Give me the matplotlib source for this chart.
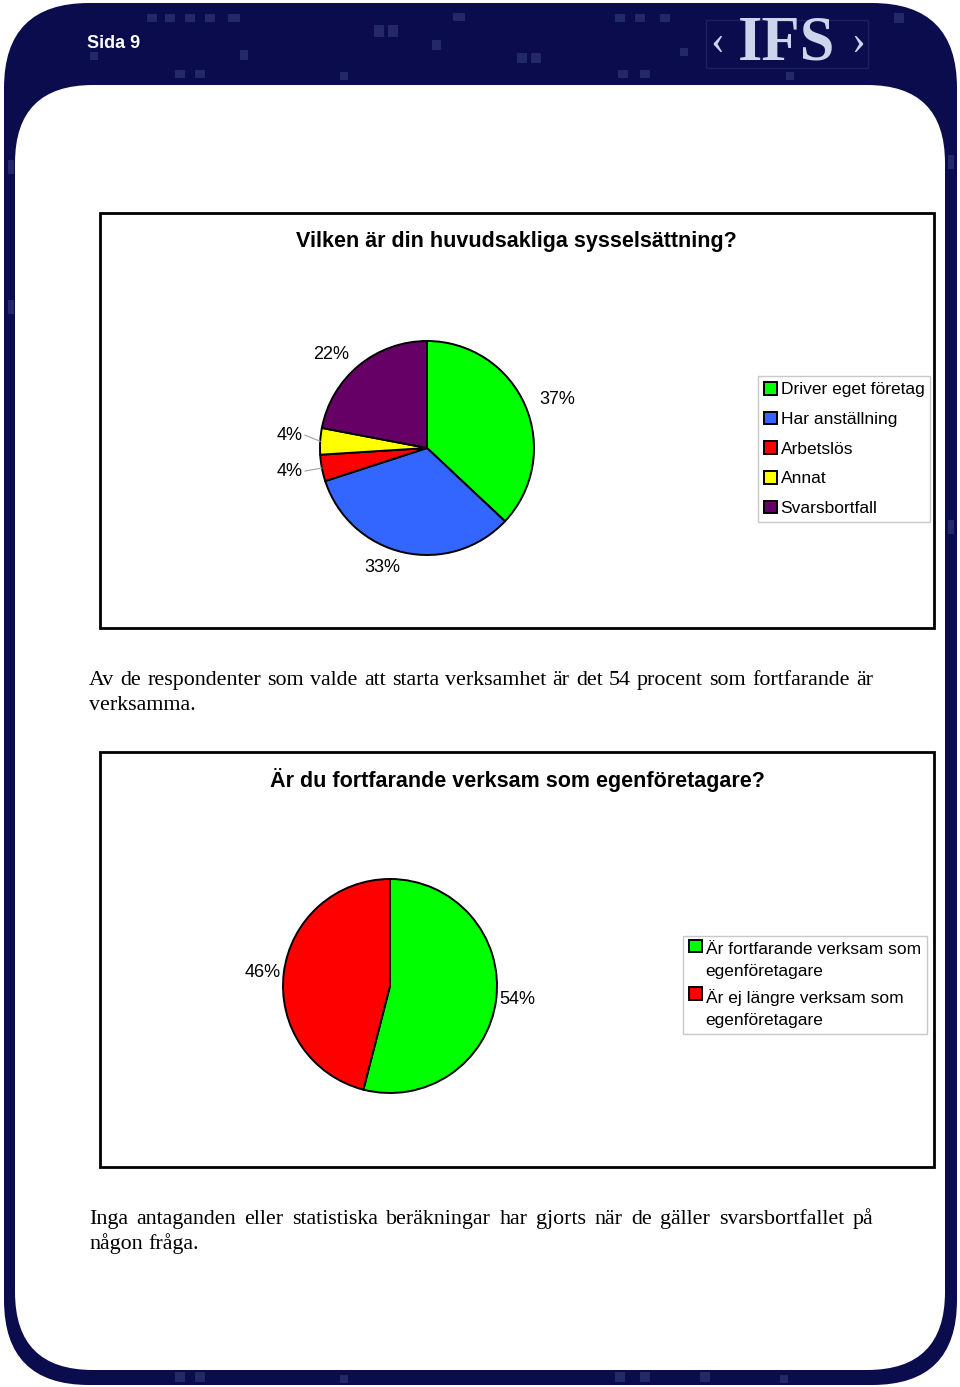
import matplotlib.pyplot as plt
import numpy as np
from matplotlib.patches import FancyBboxPatch, Rectangle, Wedge
from matplotlib.legend_handler import HandlerPatch

# chart data
job_labels = ["Driver eget företag", "Har anställning", "Arbetslös", "Annat", "Svarsbortfall"]
job_share = [37, 33, 4, 4, 22]
job_colors = ["#00ff00", "#3366ff", "#ff0000", "#ffff00", "#660066"]

active_labels = ["Är fortfarande verksam som\negenföretagare",
                 "Är ej längre verksam som\negenföretagare"]
active_share = [54, 46]
active_colors = ["#00ff00", "#ff0000"]

title1 = "Vilken är din huvudsakliga sysselsättning?"
title2 = "Är du fortfarande verksam som egenföretagare?"
para1 = ["Av de respondenter som valde att starta verksamhet är det 54 procent som fortfarande är",
         "verksamma."]
para2 = ["Inga antaganden eller statistiska beräkningar har gjorts när de gäller svarsbortfallet på",
         "någon fråga."]

W, H = 960, 1387
NAVY = "#0b0c4e"
SANS = "Liberation Sans"
SERIF = "Liberation Serif"

fig = plt.figure(figsize=(W / 100, H / 100), dpi=100)
bg = fig.add_axes([0, 0, 1, 1])
bg.set_xlim(0, W)
bg.set_ylim(H, 0)
bg.axis("off")
rend = fig.canvas.get_renderer()

# page frame
bg.add_patch(FancyBboxPatch((4, 3), 953, 1382, boxstyle="round,pad=0,rounding_size=85",
                            fc=NAVY, ec="none"))
deco = [(147, 14, 10, 8), (165, 14, 10, 8), (185, 14, 10, 8), (205, 14, 10, 8), (228, 14, 12, 8),
        (374, 25, 10, 12), (388, 25, 10, 12), (453, 13, 12, 8), (432, 40, 9, 10),
        (517, 53, 10, 10), (531, 53, 10, 10), (240, 50, 8, 10), (175, 70, 10, 8), (195, 70, 10, 8),
        (615, 14, 10, 8), (635, 14, 10, 8), (660, 14, 10, 8), (618, 70, 10, 8), (640, 70, 10, 8),
        (894, 13, 10, 10), (680, 48, 8, 8), (90, 52, 8, 8), (340, 72, 8, 8), (786, 72, 8, 8),
        (8, 160, 6, 14), (948, 155, 6, 14), (8, 300, 6, 14), (948, 520, 6, 14),
        (175, 1372, 10, 10), (195, 1372, 10, 10), (340, 1375, 8, 8), (615, 1372, 10, 10),
        (640, 1372, 10, 10), (700, 1372, 10, 10), (780, 1375, 8, 8)]
for x, y, w, h in deco:
    bg.add_patch(Rectangle((x, y), w, h, fc="#2c3476", ec="none", alpha=0.7))
bg.add_patch(Rectangle((706, 20), 162, 48, fc="none", ec="#1a2064", lw=1))
bg.add_patch(FancyBboxPatch((15, 85), 930, 1285, boxstyle="round,pad=0,rounding_size=78",
                            fc="white", ec="none"))

bg.text(87, 44, "Sida 9", color="white", fontsize=13, fontweight="bold", family=SANS,
        ha="left", va="center")
bg.text(787, 44, "IFS", color="#cdd5ec", fontsize=45, fontweight="bold", family=SERIF,
        ha="center", va="center")
bg.text(717, 44, "\u2039", color="#cdd5ec", fontsize=30, family=SERIF, ha="center", va="center")
bg.text(858, 44, "\u203a", color="#cdd5ec", fontsize=30, family=SERIF, ha="center", va="center")

# chart boxes
for top in (213, 752):
    bg.add_patch(Rectangle((100, top), 834, 415, fc="white", ec="black", lw=2))
bg.text(516, 241, title1, fontsize=15.5, fontweight="bold", family=SANS, ha="center", va="center")
bg.text(517, 780, title2, fontsize=15.5, fontweight="bold", family=SANS, ha="center", va="center")

# body text size chosen so the first line fills the column
probe = bg.text(0, 0, para1[0], fontsize=10, family=SERIF)
body_size = 10 * 778 / probe.get_window_extent(rend).width
probe.remove()


def justify(y, line, x0, x1, last=False):
    words = line.split()
    texts = [bg.text(0, y, w, fontsize=body_size, family=SERIF, ha="left", va="baseline")
             for w in words]
    widths = [t.get_window_extent(rend).width for t in texts]
    if last or len(words) == 1:
        gap = body_size * 0.25 * 100 / 72
    else:
        gap = (x1 - x0 - sum(widths)) / (len(words) - 1)
    x = x0
    for t, w in zip(texts, widths):
        t.set_x(x)
        x += w + gap


for i, line in enumerate(para1):
    justify(685 + i * 25, line, 89, 873, last=(i == len(para1) - 1))
for i, line in enumerate(para2):
    justify(1224 + i * 25, line, 89, 873, last=(i == len(para2) - 1))


def pie_axes(cx, cy, r, span=1.5):
    half = r * span
    ax = fig.add_axes([(cx - half) / W, 1 - (cy + half) / H, 2 * half / W, 2 * half / H])
    return ax


def draw_pie(ax, values, colors, dist):
    wedges, texts = ax.pie(values, colors=colors, startangle=90, counterclock=False,
                           labels=[f"{v}%" for v in values], labeldistance=dist,
                           wedgeprops=dict(edgecolor="black", linewidth=1.4),
                           textprops=dict(fontsize=13, family=SANS))
    ax.set_xlim(-1.5, 1.5)
    ax.set_ylim(-1.5, 1.5)
    ax.set_aspect("equal")
    return wedges, texts


def raised_box(legend, orig_handle, xdescent, ydescent, width, height, fontsize):
    return Rectangle((-xdescent, -ydescent + 0.85 * fontsize), width, height)


legend_kw = dict(loc="upper left", bbox_transform=fig.transFigure, borderaxespad=0,
                 fancybox=False, edgecolor="#c8c8c8", framealpha=1,
                 prop=dict(family=SANS, size=12.5), handlelength=0.75, handleheight=0.75,
                 handletextpad=0.2, borderpad=0.35)

# pie 1
ax1 = pie_axes(427, 448, 107)
w1, t1 = draw_pie(ax1, job_share, job_colors, 1.14)
for idx, ly in ((2, -0.215), (3, 0.12)):
    t1[idx].set_position((-1.16, ly))
    t1[idx].set_ha("right")
    mid = np.deg2rad((w1[idx].theta1 + w1[idx].theta2) / 2)
    ax1.plot([-1.14, np.cos(mid)], [ly, np.sin(mid)], color="#a0a0a0", lw=0.8)
ax1.legend(w1, job_labels, bbox_to_anchor=(758 / W, 1 - 376 / H), labelspacing=0.82, **legend_kw)

# pie 2
ax2 = pie_axes(390, 986, 107)
w2, t2 = draw_pie(ax2, active_share, active_colors, 1.03)
leg2 = ax2.legend(w2, active_labels, bbox_to_anchor=(683 / W, 1 - 936 / H), labelspacing=0.55,
                  handler_map={Wedge: HandlerPatch(patch_func=raised_box)}, **legend_kw)
for t in leg2.get_texts():
    t.set_linespacing(1.6)

fig.savefig("out.png", dpi=100)
